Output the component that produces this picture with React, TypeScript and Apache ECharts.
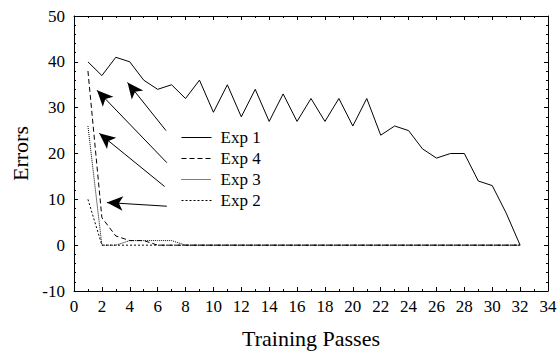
import React, { useEffect, useRef } from "react";
import * as echarts from "echarts";

const passes = [1,2,3,4,5,6,7,8,9,10,11,12,13,14,15,16,17,18,19,20,21,22,23,24,25,26,27,28,29,30,31,32];
const exp1 = [40,37,41,40,36,34,35,32,36,29,35,28,34,27,33,27,32,27,32,26,32,24,26,25,21,19,20,20,14,13,7,0];
const exp4 = [38,6,2,1,1,0,0,0,0,0,0,0,0,0,0,0,0,0,0,0,0,0,0,0,0,0,0,0,0,0,0,0];
const exp3 = [26,0,0,1,1,1,1,0,0,0,0,0,0,0,0,0,0,0,0,0,0,0,0,0,0,0,0,0,0,0,0,0];
const exp2 = [10,0,0,0,0,0,0,0,0,0,0,0,0,0,0,0,0,0,0,0,0,0,0,0,0,0,0,0,0,0,0,0];
const seriesNames = ["Exp 1", "Exp 4", "Exp 3", "Exp 2"];
const arrowTails = [[6.6, 25], [6.66, 18], [6.5, 12.8], [6.66, 8.5]];
const arrowHeads = [[3.84, 35.5], [1.65, 33.8], [1.81, 24.4], [2.36, 9.3]];

const FONT = "Liberation Serif, Times New Roman, serif";

export default function App() {
  const ref = useRef<HTMLDivElement>(null);
  useEffect(() => {
    if (!ref.current) return;
    const chart = echarts.init(ref.current, undefined, { renderer: "svg" });
    const pair = (ys: number[]) => passes.map((x, i) => [x, ys[i]]);
    const axisCommon = {
      type: "value" as const,
      axisLine: { show: true, onZero: false, lineStyle: { color: "#000", width: 1 } },
      axisTick: { show: true, inside: true, length: 4, lineStyle: { color: "#000" } },
      minorTick: { show: true, length: 2, lineStyle: { color: "#000" } },
      splitLine: { show: false },
      minorSplitLine: { show: false },
    };
    chart.setOption({
      animation: false,
      backgroundColor: "#fff",
      textStyle: { fontFamily: FONT },
      grid: { left: 74, right: 12, top: 16, bottom: 65, containLabel: false },
      legend: {
        orient: "vertical",
        left: 176,
        top: 124,
        itemWidth: 30,
        itemHeight: 14,
        itemGap: 4,
        data: seriesNames,
        itemStyle: { opacity: 0 },
        lineStyle: { width: 1 },
        textStyle: { color: "#000", fontFamily: FONT, fontSize: 17, padding: [0, 0, 0, 4] },
      },
      xAxis: [
        {
          ...axisCommon,
          position: "bottom",
          min: 0, max: 34, interval: 2,
          minorTick: { ...axisCommon.minorTick, splitNumber: 2 },
          axisLabel: { color: "#000", fontFamily: FONT, fontSize: 17, margin: 7 },
          name: "Training Passes",
          nameLocation: "middle",
          nameGap: 36,
          nameTextStyle: { color: "#000", fontFamily: FONT, fontSize: 22 },
        },
        {
          ...axisCommon,
          position: "top",
          min: 0, max: 34, interval: 2,
          minorTick: { ...axisCommon.minorTick, splitNumber: 2 },
          axisLabel: { show: false },
        },
      ],
      yAxis: [
        {
          ...axisCommon,
          position: "left",
          min: -10, max: 50, interval: 10,
          minorTick: { ...axisCommon.minorTick, splitNumber: 5 },
          axisLabel: { color: "#000", fontFamily: FONT, fontSize: 17, margin: 9 },
          name: "Errors",
          nameLocation: "middle",
          nameGap: 40,
          nameTextStyle: { color: "#000", fontFamily: FONT, fontSize: 22 },
        },
        {
          ...axisCommon,
          position: "right",
          min: -10, max: 50, interval: 10,
          minorTick: { ...axisCommon.minorTick, splitNumber: 5 },
          axisLabel: { show: false },
        },
      ],
      series: [
        {
          name: "Exp 1", type: "line", data: pair(exp1), symbol: "none",
          color: "#000", lineStyle: { color: "#000", width: 1, type: "solid" },
          markLine: {
            silent: true,
            symbol: ["none", "arrow"],
            symbolSize: [11, 16],
            label: { show: false },
            lineStyle: { color: "#000", width: 1, type: "solid" },
            data: arrowTails.map((t, i) => [{ coord: t }, { coord: arrowHeads[i] }]),
          },
        },
        {
          name: "Exp 4", type: "line", data: pair(exp4), symbol: "none",
          color: "#000", lineStyle: { color: "#000", width: 1, type: [5, 3] },
        },
        {
          name: "Exp 3", type: "line", data: pair(exp3), symbol: "none",
          color: "#000", lineStyle: { color: "#000", width: 1, type: [1, 1] },
        },
        {
          name: "Exp 2", type: "line", data: pair(exp2), symbol: "none",
          color: "#000", lineStyle: { color: "#000", width: 1, type: [2, 2] },
        },
      ],
    });
    return () => chart.dispose();
  }, []);
  return <div ref={ref} style={{ width: 560, height: 356, position: "absolute", left: 0, top: 0 }} />;
}
